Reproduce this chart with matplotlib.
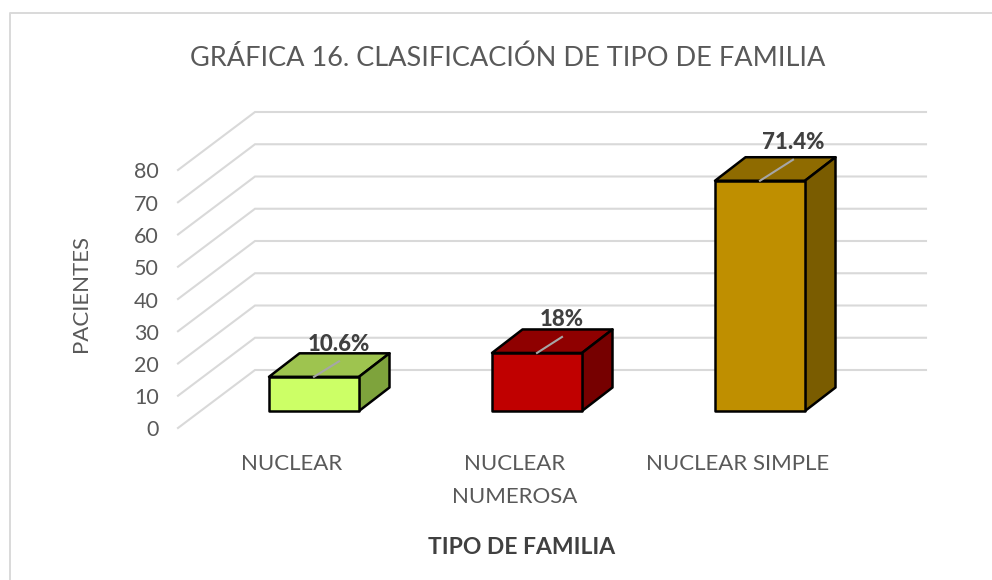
import matplotlib
matplotlib.use("Agg")
from matplotlib import pyplot as plt
from matplotlib.patches import Polygon, Rectangle

plt.rcParams["font.family"] = ["Lato", "DejaVu Sans"]

categories = ["NUCLEAR", "NUCLEAR\nNUMEROSA", "NUCLEAR SIMPLE"]
values = [10.6, 18, 71.4]
value_labels = ["10.6%", "18%", "71.4%"]
y_ticks = [0, 10, 20, 30, 40, 50, 60, 70, 80]
front_colors = ["#CCFF66", "#C00000", "#BF8F00"]
top_colors = ["#9EC44F", "#8F0000", "#8F6B00"]
side_colors = ["#7EA33C", "#760000", "#7A5C00"]

W, H = 992, 580
CAT_PX = 223.0   # pixels per category
VAL_PX = 32.25   # pixels per 10 units
X0_PX, Y0_PX = 314.0, 411.0  # where category 0 / value 0 of the bars lands


def xd(px):
    return px / CAT_PX


def yd(px):
    return px / VAL_PX * 10


fig = plt.figure(figsize=(W / 100, H / 100), dpi=100)
ax = fig.add_axes([0, 0, 1, 1])
ax.set_xlim(-X0_PX / CAT_PX, (W - X0_PX) / CAT_PX)
ax.set_ylim(-yd(H - Y0_PX), yd(Y0_PX))
ax.axis("off")

# chart frame, only top and left are inside the picture
frame_x = [9.5 / W, 9.5 / W, 1]
frame_y = [0, 1 - 12.5 / H, 1 - 12.5 / H]
fig.add_artist(plt.Line2D(frame_x, frame_y, transform=fig.transFigure, color="#D9D9D9", linewidth=1.4))

# floor offset of the walls relative to the bars
front_y = yd(-17)
back_y = yd(41)
wall_left_front = xd(178 - X0_PX)
wall_left_back = xd(255 - X0_PX)
wall_right = xd(926 - X0_PX)

for t in y_ticks:
    ax.plot([wall_left_front, wall_left_back, wall_right], [front_y + t, back_y + t, back_y + t],
            color="#D9D9D9", linewidth=1.5, solid_joinstyle="miter", zorder=1)
    ax.text(xd(159 - X0_PX), front_y + t + yd(-2.5), str(t), ha="right", va="center", fontsize=15.5, color="#595959")

bar_w = xd(90)
dx = xd(30.5)
dy = yd(23.5)
leader_dx = [25, 25, 33]
leader_dy = [15.5, 16, 21]
for i, v in enumerate(values):
    l = i - bar_w / 2
    r = i + bar_w / 2
    ax.add_patch(Polygon([(l, v), (r, v), (r + dx, v + dy), (l + dx, v + dy)], closed=True,
                         facecolor=top_colors[i], edgecolor="black", linewidth=1.8, joinstyle="round", zorder=3))
    ax.add_patch(Polygon([(r, 0), (r + dx, dy), (r + dx, v + dy), (r, v)], closed=True,
                         facecolor=side_colors[i], edgecolor="black", linewidth=1.8, joinstyle="round", zorder=3))
    ax.add_patch(Rectangle((l, 0), bar_w, v, facecolor=front_colors[i], edgecolor="black",
                           linewidth=1.8, joinstyle="round", zorder=4))
    # leader line up to the label
    ax.plot([i, i + xd(leader_dx[i])], [v, v + yd(leader_dy[i])], color="#A6A6A6", linewidth=1.5, zorder=5)
    ax.text(i + xd(leader_dx[i]), v + yd(leader_dy[i] + 6.5), value_labels[i], ha="center", va="bottom", fontsize=16,
            fontweight="black", color="#404040", zorder=6)

label_x = [292, 515, 738]
for i, c in enumerate(categories):
    ax.text(xd(label_x[i] - X0_PX), yd(Y0_PX - 454), c, ha="center", va="top", fontsize=16,
            color="#595959", linespacing=1.8)

ax.text(xd(508 - X0_PX), yd(Y0_PX - 58), "GRÁFICA 16. CLASIFICACIÓN DE TIPO DE FAMILIA", ha="center", va="center",
        fontsize=19.5, color="#595959")
ax.text(xd(522 - X0_PX), yd(Y0_PX - 547), "TIPO DE FAMILIA", ha="center", va="center", fontsize=16.5,
        fontweight="bold", color="#404040")
ax.text(xd(81 - X0_PX), yd(Y0_PX - 294), "PACIENTES", ha="center", va="center", rotation=90, fontsize=16,
        color="#595959")

fig.savefig("out.png", dpi=100)
